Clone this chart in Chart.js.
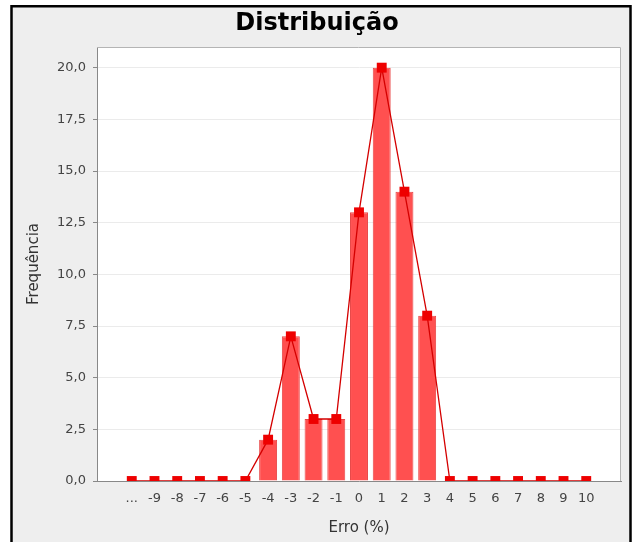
<!DOCTYPE html>
<html><head><meta charset="utf-8">
<script src="https://cdn.jsdelivr.net/npm/chart.js@4/dist/chart.umd.min.js"></script>
<style>html,body{margin:0;padding:0;background:#fff;overflow:hidden}</style>
</head><body>
<canvas id="c" width="634" height="542" style="display:block;width:634px;height:542px"></canvas>
<script>
const categories = ['...','-9','-8','-7','-6','-5','-4','-3','-2','-1','0','1','2','3','4','5','6','7','8','9','10'];
const frequencies = [0,0,0,0,0,0,2,7,3,3,13,20,14,8,0,0,0,0,0,0,0];
const yTickValues = [0,2.5,5,7.5,10,12.5,15,17.5,20];
const yTickLabels = ['0,0','2,5','5,0','7,5','10,0','12,5','15,0','17,5','20,0'];
const chartTitle = 'Distribuição';
const xTitle = 'Erro (%)';
const yTitle = 'Frequência';

const points = frequencies.map((v, i) => ({x: i, y: v}));

const framePlugin = {
  id: 'frame',
  beforeDraw(chart) {
    const {ctx, chartArea: a} = chart;
    ctx.save();
    ctx.fillStyle = '#ffffff';
    ctx.fillRect(0, 0, chart.width, chart.height);
    ctx.fillStyle = '#eeeeee';
    ctx.fillRect(11, 6, 620, 600);
    ctx.strokeStyle = '#000000';
    ctx.lineWidth = 2.5;
    ctx.strokeRect(11.5, 6.25, 619, 600);
    ctx.fillStyle = '#ffffff';
    ctx.fillRect(a.left, a.top, a.right - a.left, a.bottom - a.top);
    ctx.restore();
  },
  beforeDatasetsDraw(chart) {
    const {ctx, chartArea: a} = chart;
    ctx.save();
    ctx.strokeStyle = '#b4b4b4';
    ctx.lineWidth = 1;
    ctx.beginPath();
    ctx.moveTo(a.left, a.top + 0.5);
    ctx.lineTo(a.right - 0.5, a.top + 0.5);
    ctx.lineTo(a.right - 0.5, a.bottom);
    ctx.stroke();
    ctx.restore();
  }
};

const tickFont = {family: 'DejaVu Sans', size: 13};
const titleFont = {family: 'DejaVu Sans', size: 15};

new Chart(document.getElementById('c'), {
  type: 'bar',
  data: {
    datasets: [
      {
        type: 'line',
        data: points,
        borderColor: '#d40000',
        borderWidth: 1.3,
        backgroundColor: '#ee0000',
        pointStyle: 'rect',
        pointRadius: 7,
        pointBorderWidth: 0,
        pointBackgroundColor: '#ee0000',
        tension: 0,
        clip: 0,
        order: 0
      },
      {
        type: 'bar',
        data: points,
        backgroundColor: '#ff5050',
        borderColor: '#e84646',
        borderWidth: 1,
        categoryPercentage: 1,
        barPercentage: 0.79,
        order: 1
      }
    ]
  },
  options: {
    responsive: false,
    animation: false,
    layout: {padding: {left: 0, right: 0, top: 0, bottom: 0}},
    plugins: {
      legend: {display: false},
      tooltip: {enabled: false},
      title: {
        display: true,
        text: chartTitle,
        color: '#000',
        font: {family: 'DejaVu Sans', size: 24, weight: 'bold'},
        padding: {top: 9, bottom: 9.2}
      }
    },
    scales: {
      x: {
        type: 'linear',
        min: -1.53,
        max: 21.53,
        offset: false,
        afterBuildTicks: s => { s.ticks = categories.map((_, i) => ({value: i})); },
        afterFit: s => { s.height = 61; },
        ticks: {
          callback: v => categories[v] !== undefined ? categories[v] : '',
          autoSkip: false, maxRotation: 0, minRotation: 0,
          font: tickFont, color: '#444', padding: 10
        },
        grid: {display: false, drawTicks: false},
        border: {display: true, color: '#888'},
        title: {display: true, text: xTitle, font: titleFont, color: '#333', padding: {top: 0, bottom: 5}}
      },
      y: {
        min: 0,
        max: 21,
        afterBuildTicks: s => { s.ticks = yTickValues.map(v => ({value: v})); },
        afterFit: s => { s.width = 97; },
        ticks: {
          callback: v => yTickLabels[yTickValues.indexOf(v)],
          font: tickFont, color: '#444', padding: 7
        },
        grid: {color: '#ebebeb', drawTicks: true, tickLength: 4, tickColor: '#888'},
        border: {display: true, color: '#888'},
        title: {display: true, text: yTitle, font: titleFont, color: '#333', padding: {top: 25, bottom: 0}}
      },
      yRight: {
        position: 'right',
        display: true,
        min: 0,
        max: 21,
        afterBuildTicks: s => { s.ticks = []; },
        afterFit: s => { s.width = 13; },
        ticks: {display: false},
        grid: {display: false, drawTicks: false},
        border: {display: false}
      }
    }
  },
  plugins: [framePlugin]
});
</script>
</body></html>
